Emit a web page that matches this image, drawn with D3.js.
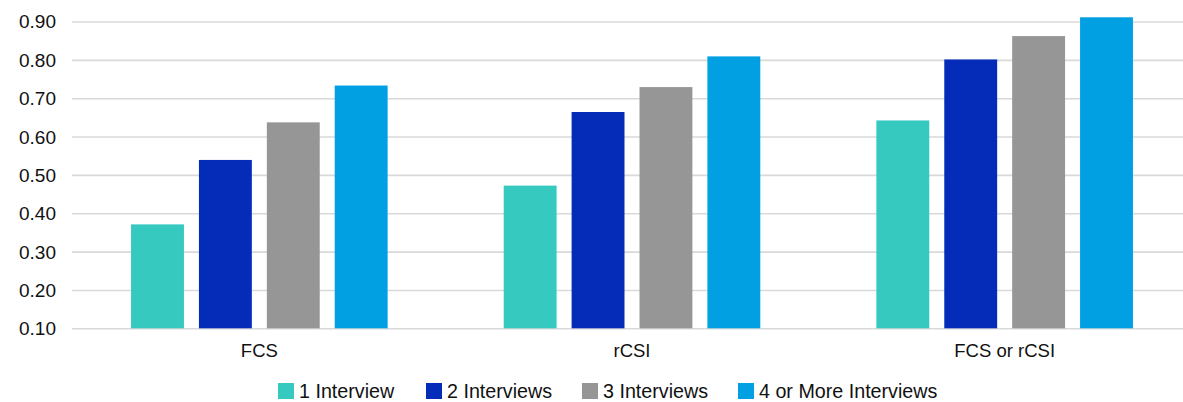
<!DOCTYPE html>
<html><head><meta charset="utf-8">
<script src="https://cdn.jsdelivr.net/npm/d3@7"></script>
<style>
html,body{margin:0;padding:0;background:#fff;}
svg{display:block;font-family:"Liberation Sans",Arial,sans-serif;}
</style></head>
<body>
<svg id="chart" width="1183" height="402"></svg>
<script>
const categories = ["FCS", "rCSI", "FCS or rCSI"];
const seriesNames = ["1 Interview", "2 Interviews", "3 Interviews", "4 or More Interviews"];
const s1 = [0.371, 0.472, 0.642];
const s2 = [0.539, 0.664, 0.801];
const s3 = [0.637, 0.729, 0.862];
const s4 = [0.733, 0.809, 0.911];
const colors = ["#36c9c0", "#052cb9", "#969696", "#00a0e2"];
const yTicks = [0.10, 0.20, 0.30, 0.40, 0.50, 0.60, 0.70, 0.80, 0.90];

const seriesVals = [s1, s2, s3, s4];
const svg = d3.select("#chart");

const x0 = d3.scaleBand().domain(categories).range([73, 1191]).padding(0);
const x1 = d3.scaleBand().domain(seriesNames).range([0, x0.bandwidth()])
  .paddingInner(0.221).paddingOuter(0.855);
const y = d3.scaleLinear().domain([0.10, 0.90]).range([328.3, 21.5]);

// gridlines
const grid = svg.append("g").attr("transform", "translate(72,0)")
  .call(d3.axisLeft(y).tickValues(yTicks).tickSize(-1200).tickFormat(""));
grid.select(".domain").remove();
grid.selectAll("line").attr("stroke", "#d9d9d9").attr("stroke-width", 1.6);

// y labels
const yAxis = svg.append("g").attr("transform", "translate(56,0)")
  .call(d3.axisLeft(y).tickValues(yTicks).tickSize(0).tickPadding(0).tickFormat(d3.format(".2f")));
yAxis.select(".domain").remove();
yAxis.selectAll("text").attr("font-size", 19).attr("fill", "#111")
  .attr("font-family", "'Liberation Sans',Arial,sans-serif").attr("dy", "0.34em");

// bars
const data = categories.map((c, i) => ({cat: c, vals: seriesNames.map((s, j) => ({s, j, v: seriesVals[j][i]}))}));
const groups = svg.append("g").selectAll("g").data(data).join("g")
  .attr("transform", d => `translate(${x0(d.cat)},0)`);
groups.selectAll("rect").data(d => d.vals).join("rect")
  .attr("x", d => x1(d.s))
  .attr("width", x1.bandwidth())
  .attr("y", d => y(d.v))
  .attr("height", d => y(0.10) - y(d.v))
  .attr("fill", d => colors[d.j]);

// x labels
const xAxis = svg.append("g").attr("transform", "translate(0,329)")
  .call(d3.axisBottom(x0).tickSize(0).tickPadding(0));
xAxis.select(".domain").remove();
xAxis.selectAll("text").attr("font-size", 18.5).attr("fill", "#111")
  .attr("font-family", "'Liberation Sans',Arial,sans-serif")
  .attr("dy", null).attr("y", 28);

// legend
const legendX = [278, 426, 582, 738];
const lg = svg.append("g").selectAll("g").data(seriesNames).join("g")
  .attr("transform", (d, i) => `translate(${legendX[i]},383)`);
lg.append("rect").attr("width", 16).attr("height", 16).attr("fill", (d, i) => colors[i]);
lg.append("text").attr("x", 21).attr("y", 15).attr("font-size", 19.7).attr("fill", "#111")
  .text(d => d);
</script>
</body></html>
